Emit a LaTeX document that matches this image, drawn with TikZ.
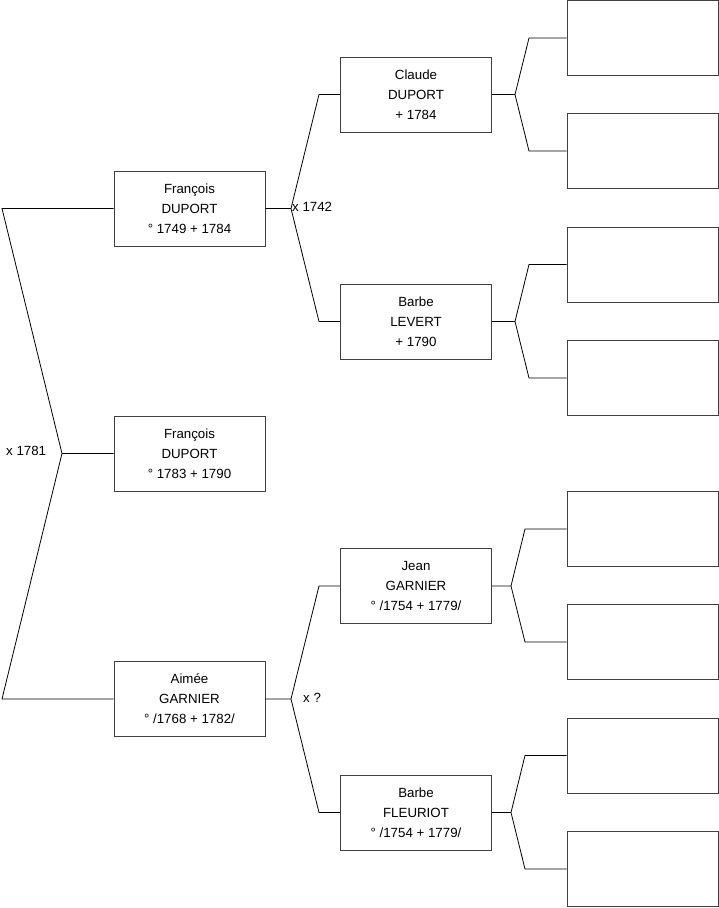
\documentclass[tikz,border=0pt]{standalone}
\usepackage{fontspec}
\setmainfont{Liberation Sans}
\usepackage{tikz}
\usetikzlibrary{calc}

\tikzset{
  person/.style={draw=black!75, line width=0.9pt, minimum width=151pt, minimum height=75pt,
    align=center, inner sep=0pt, font=\fontsize{13.3}{20}\selectfont},
  link/.style={line width=0.8pt},
  wed/.style={anchor=west, inner sep=0pt, font=\fontsize{13.3}{15}\selectfont}
}

\begin{document}
\begin{tikzpicture}[x=1pt, y=-1pt]
                \useasboundingbox (0,0) rectangle (719,908);
                % generation 1 and 2
                \node[person] (P)  at (189.5,453.5) {François\\DUPORT\\° 1783 + 1790};
                \node[person] (F)  at (189.5,208.5) {François\\DUPORT\\° 1749 + 1784};
                \node[person] (M)  at (189.5,699)   {Aimée\\GARNIER\\° /1768 + 1782/};
                % generation 3
                \node[person] (FF) at (416,94.5)  {Claude\\DUPORT\\+ 1784};
                \node[person] (FM) at (416,321.5) {Barbe\\LEVERT\\+ 1790};
                \node[person] (MF) at (416,586)   {Jean\\GARNIER\\° /1754 + 1779/};
                \node[person] (MM) at (416,812.5) {Barbe\\FLEURIOT\\° /1754 + 1779/};
                % generation 4 (empty)
                \node[person] (FFF) at (642.5,38)    {};
                \node[person] (FFM) at (642.5,151)   {};
                \node[person] (FMF) at (642.5,264.5) {};
                \node[person] (FMM) at (642.5,378)   {};
                \node[person] (MFF) at (642.5,529)   {};
                \node[person] (MFM) at (642.5,642)   {};
                \node[person] (MMF) at (642.5,755.5) {};
                \node[person] (MMM) at (642.5,869)   {};
                % forks
                \coordinate (A)  at (62,453.5);
                \coordinate (A1) at (2,208.5);
                \coordinate (A2) at (2,699);
                \coordinate (B)  at (291,208.5);
                \coordinate (B1) at (319,94.5);
                \coordinate (B2) at (319,321.5);
                \coordinate (C)  at (291,699);
                \coordinate (C1) at (319,586);
                \coordinate (C2) at (319,812.5);
                \coordinate (D)  at (515,94.5);
                \coordinate (D1) at (529,38);
                \coordinate (D2) at (529,151);
                \coordinate (E)  at (515,321.5);
                \coordinate (E1) at (529,264.5);
                \coordinate (E2) at (529,378);
                \coordinate (G)  at (511,586);
                \coordinate (G1) at (525,529);
                \coordinate (G2) at (525,642);
                \coordinate (H)  at (511,812.5);
                \coordinate (H1) at (525,755.5);
                \coordinate (H2) at (525,869);
                \draw[link] (P.west) -- (A) (F.west) -- (A1) -- (A) -- (A2) -- (M.west);
                \draw[link] (F.east) -- (B) (FF.west) -- (B1) -- (B) -- (B2) -- (FM.west);
                \draw[link] (M.east) -- (C) (MF.west) -- (C1) -- (C) -- (C2) -- (MM.west);
                \draw[link] (FF.east) -- (D) (FFF.west) -- (D1) -- (D) -- (D2) -- (FFM.west);
                \draw[link] (FM.east) -- (E) (FMF.west) -- (E1) -- (E) -- (E2) -- (FMM.west);
                \draw[link] (MF.east) -- (G) (MFF.west) -- (G1) -- (G) -- (G2) -- (MFM.west);
                \draw[link] (MM.east) -- (H) (MMF.west) -- (H1) -- (H) -- (H2) -- (MMM.west);
                % marriages
                \node[wed] (wA) at (6,451)   {x 1781};
                \node[wed] (wB) at (292,207) {x 1742};
                \node[wed] (wC) at (303,698) {x ?};
                \end{tikzpicture}
\end{document}
